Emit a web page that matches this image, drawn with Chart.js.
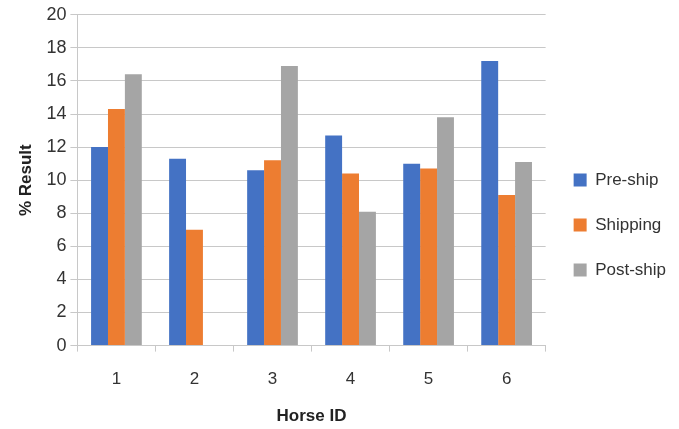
<!DOCTYPE html>
<html>
<head>
<meta charset="utf-8">
<script src="https://cdn.jsdelivr.net/npm/chart.js@4/dist/chart.umd.min.js"></script>
<style>
  html, body { margin: 0; padding: 0; background: #fff; }
  #wrap { width: 679px; height: 429px; }
</style>
</head>
<body>
<div id="wrap"><canvas id="chart" width="679" height="429"></canvas></div>
<script>
// data
const horseIds = ['1', '2', '3', '4', '5', '6'];
const preShip = [12.0, 11.3, 10.6, 12.7, 11.0, 17.2];
const shipping = [14.3, 7.0, 11.2, 10.4, 10.7, 9.1];
const postShip = [16.4, 0, 16.9, 8.1, 13.8, 11.1];

const font = 'Liberation Sans, Arial, sans-serif';
const gridGray = '#c8c8c8';

new Chart(document.getElementById('chart'), {
  type: 'bar',
  data: {
    labels: horseIds,
    datasets: [
      { label: 'Pre-ship', data: preShip, backgroundColor: '#4472C4' },
      { label: 'Shipping', data: shipping, backgroundColor: '#ED7D31' },
      { label: 'Post-ship', data: postShip, backgroundColor: '#A5A5A5' }
    ]
  },
  options: {
    responsive: false,
    animation: false,
    datasets: { bar: { categoryPercentage: 0.65, barPercentage: 1.0 } },
    layout: { padding: { top: 7, left: 12, right: 3, bottom: 0 } },
    plugins: {
      tooltip: { enabled: false },
      legend: {
        position: 'right',
        // blank title just pushes the legend items down a little
        title: { display: true, text: ' ', font: { size: 10 }, padding: { top: 1, bottom: 1 } },
        labels: {
          font: { family: font, size: 17 },
          color: '#333',
          boxWidth: 13,
          boxHeight: 13,
          padding: 28
        }
      }
    },
    scales: {
      x: {
        grid: { drawOnChartArea: false, drawTicks: true, tickLength: 6, color: gridGray },
        border: { color: gridGray },
        ticks: { font: { family: font, size: 17 }, color: '#333', padding: 18 },
        title: { display: true, text: 'Horse ID', font: { family: font, size: 17, weight: 'bold', lineHeight: 1.0 }, color: '#222', padding: { top: 0 } }
      },
      y: {
        min: 0,
        max: 20,
        grid: { color: gridGray, tickLength: 7 },
        border: { color: gridGray },
        ticks: { stepSize: 2, font: { family: font, size: 18 }, color: '#333', padding: 4 },
        title: { display: true, text: '% Result', font: { family: font, size: 17, weight: 'bold' }, color: '#222', padding: { bottom: 6 } }
      }
    }
  }
});
</script>
</body>
</html>
